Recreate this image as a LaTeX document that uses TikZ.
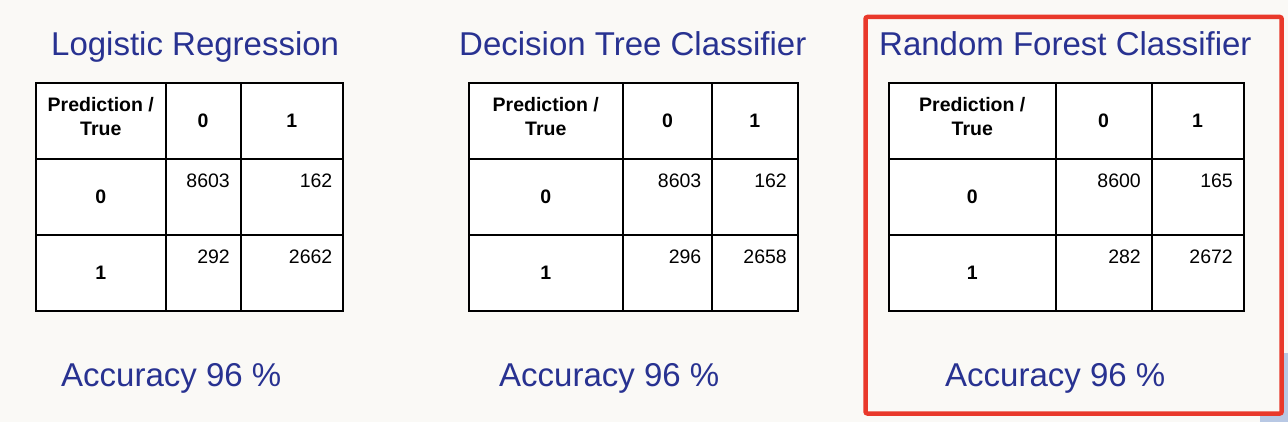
\documentclass[tikz,border=0pt]{standalone}
\usepackage{fontspec}
\setmainfont{Liberation Sans}
\usetikzlibrary{calc}
\definecolor{titleblue}{RGB}{40,50,145}
\definecolor{boxred}{RGB}{233,57,43}
\definecolor{paper}{RGB}{250,249,246}
\definecolor{cornerblue}{RGB}{184,200,228}

\begin{document}
\begin{tikzpicture}[x=1pt, y=-1pt,
          titletxt/.style = {anchor=base west, inner sep=0pt, text=titleblue, font=\fontsize{33}{36}\selectfont},
          headtxt/.style = {inner sep=0pt, align=center, font=\bfseries\fontsize{19.5}{24}\selectfont},
          cellnum/.style = {anchor=base east, inner sep=0pt, font=\fontsize{19.5}{24}\selectfont},
          tablebox/.style = {line width=2pt, fill=white}]
        \useasboundingbox (0,0) rectangle (1288,422);
        \fill[paper] (0,0) rectangle (1288,422);
        \fill[cornerblue] (1260,353) rectangle (1288,422);
        \draw[boxred, line width=4.5pt, rounded corners=2pt, fill=paper] (865.5,17) rectangle (1281.7,413.5);
        \foreach \n/\xa/\xb/\xc/\xd/\tx/\ax/\name/\ta/\tb/\tc/\td in
                 {lr/36/165.5/240.5/343/51/61/Logistic Regression/8603/162/292/2662,
                  dt/468.5/623/712/797.5/459/499/Decision Tree Classifier/8603/162/296/2658,
                  rf/889/1055.5/1151.5/1243.5/879/945/Random Forest Classifier/8600/165/282/2672}
                 {
                   \node[titletxt] (\n-title) at (\tx,56) {\name};
                   \draw[tablebox] (\xa,83) rectangle (\xd,311);
                   \draw[line width=2pt] (\xb,83) -- (\xb,311) (\xc,83) -- (\xc,311)
                                         (\xa,159) -- (\xd,159) (\xa,235) -- (\xd,235);
                   \node[headtxt] (\n-hd) at ({(\xa+\xb)/2},117) {Prediction /\\True};
                   \node[headtxt] (\n-c0) at ({(\xb+\xc)/2},121) {0};
                   \node[headtxt] (\n-c1) at ({(\xc+\xd)/2},121) {1};
                   \node[headtxt] (\n-r0) at ({(\xa+\xb)/2},197) {0};
                   \node[headtxt] (\n-r1) at ({(\xa+\xb)/2},273) {1};
                   \node[cellnum] (\n-tn) at ({\xc-10.5},188) {\ta};
                   \node[cellnum] (\n-fp) at ({\xd-10.5},188) {\tb};
                   \node[cellnum] (\n-fn) at ({\xc-10.5},263.5) {\tc};
                   \node[cellnum] (\n-tp) at ({\xd-10.5},263.5) {\td};
                   \node[titletxt] (\n-acc) at (\ax,386) {Accuracy 96 \%};
                 }
\end{tikzpicture}
\end{document}
